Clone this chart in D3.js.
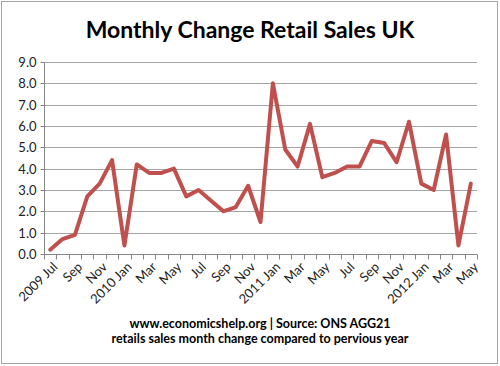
<!DOCTYPE html>
<html><head><meta charset="utf-8">
<script src="https://cdn.jsdelivr.net/npm/d3@7/dist/d3.min.js"></script>
<style>body{margin:0;background:#fff;}svg{display:block;font-family:Lato,"Open Sans",sans-serif;}</style>
</head><body>
<svg id="c" width="500" height="366"></svg>
<script>
const months = ["2009 Jul","Aug","Sep","Oct","Nov","Dec","2010 Jan","Feb","Mar","Apr","May","Jun","Jul","Aug","Sep","Oct","Nov","Dec","2011 Jan","Feb","Mar","Apr","May","Jun","Jul","Aug","Sep","Oct","Nov","Dec","2012 Jan","Feb","Mar","Apr","May"];
const values = [0.2,0.7,0.9,2.7,3.3,4.4,0.4,4.2,3.8,3.8,4.0,2.7,3.0,2.5,2.0,2.2,3.2,1.5,8.0,4.9,4.1,6.1,3.6,3.8,4.1,4.1,5.3,5.2,4.3,6.2,3.3,3.0,5.6,0.4,3.3];
const yTicks = [0,1,2,3,4,5,6,7,8,9];
const title = "Monthly Change Retail Sales UK";
const footer = ["www.economicshelp.org | Source: ONS AGG21","retails sales month change compared to pervious year"];

const svg = d3.select("#c");
const L = 44, R = 477, T = 62, B = 254;
svg.append("rect").attr("x",1.5).attr("y",1.5).attr("width",496).attr("height",362)
  .attr("fill","#fff").attr("stroke","#a6a6a6").attr("stroke-width",1);

const x = d3.scaleBand().domain(d3.range(months.length)).range([L,R]).paddingInner(0).paddingOuter(0);
const y = d3.scaleLinear().domain([0,9]).range([B,T]);

// gridlines
svg.append("g").selectAll("line").data(yTicks.filter(d=>d>0)).join("line")
  .attr("x1",L).attr("x2",R).attr("y1",d=>Math.round(y(d))+0.5).attr("y2",d=>Math.round(y(d))+0.5)
  .attr("stroke","#a6a6a6").attr("stroke-width",1);

// y axis
const ya = svg.append("g").attr("transform",`translate(${L+0.5},0)`)
  .call(d3.axisLeft(y).tickValues(yTicks).tickFormat(d3.format(".1f")).tickSize(4).tickPadding(4));
ya.select(".domain").attr("stroke","#868686").attr("d",`M0,${T}V${B}`);
ya.selectAll(".tick line").attr("stroke","#868686");
ya.selectAll(".tick").attr("transform",d=>`translate(0,${Math.round(y(d))+0.5})`);
ya.selectAll("text").attr("font-family","Lato, sans-serif").attr("font-size",13).attr("fill","#222");

// x axis with ticks between categories
const xa = svg.append("g").attr("transform",`translate(0,${B+0.5})`);
xa.append("line").attr("x1",L).attr("x2",R).attr("stroke","#868686");
xa.selectAll("line.t").data(d3.range(months.length+1)).join("line").attr("class","t")
  .attr("x1",i=>Math.round(L + i*x.bandwidth())+0.5).attr("x2",i=>Math.round(L + i*x.bandwidth())+0.5)
  .attr("y1",0).attr("y2",5).attr("stroke","#868686");
xa.selectAll("text").data(d3.range(0,months.length,2)).join("text")
  .attr("transform",i=>`translate(${x(i)+x.bandwidth()/2+5},${10}) rotate(-45)`)
  .attr("text-anchor","end").attr("dy","0.35em")
  .attr("font-size",13).attr("fill","#222").text(i=>months[i]);

// line
const line = d3.line().x((d,i)=>x(i)+x.bandwidth()/2).y(d=>y(d));
svg.append("path").datum(values).attr("d",line).attr("fill","none")
  .attr("stroke","#c0504d").attr("stroke-width",4).attr("stroke-linejoin","round").attr("stroke-linecap","round");

// title
svg.append("text").attr("x",250).attr("y",38).attr("text-anchor","middle")
  .attr("font-weight","bold").attr("font-size",23).attr("fill","#000").text(title);

// footer
svg.selectAll("text.f").data(footer).join("text").attr("class","f")
  .attr("x",260).attr("y",(d,i)=>328+i*15).attr("text-anchor","middle")
  .attr("font-weight","bold").attr("font-size",12.5).attr("fill","#000").text(d=>d);
</script>
</body></html>
